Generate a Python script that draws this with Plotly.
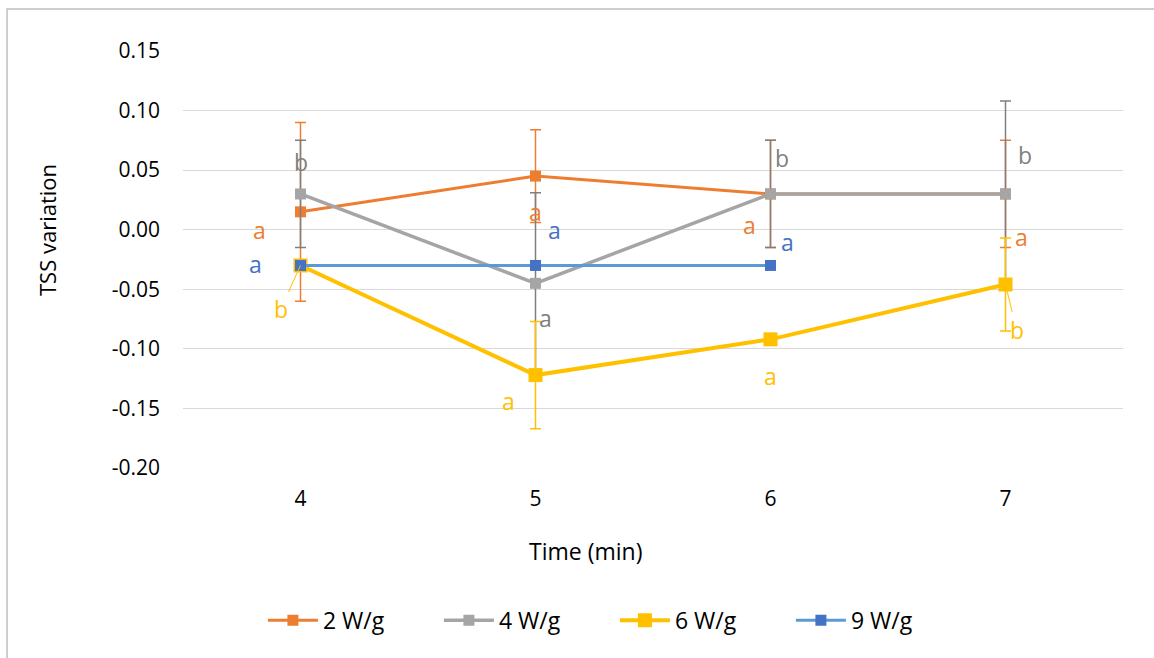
import plotly.graph_objects as go

# ---- data ----
times = ["4", "5", "6", "7"]
series_names = ["2 W/g", "4 W/g", "6 W/g", "9 W/g"]
v_2 = [0.015, 0.045, 0.030, 0.030]
v_4 = [0.030, -0.045, 0.030, 0.030]
v_6 = [-0.030, -0.122, -0.092, -0.046]
v_9 = [-0.030, -0.030, -0.030]
err_2 = [0.075, 0.039, 0.045, 0.045]
err_4 = [0.045, 0.076, 0.045, 0.078]
err_6 = [0.0, 0.045, 0.0, 0.039]
y_ticks = [0.15, 0.10, 0.05, 0.00, -0.05, -0.10, -0.15, -0.20]
y_tick_text = ["0.15", "0.10", "0.05", "0.00", "-0.05", "-0.10", "-0.15", "-0.20"]
x_title = "Time (min)"
y_title = "TSS variation"

# significance letters: (time, letter, series index, label y, x shift px)
letters = [
    ("4", "a", 0, 0.000, -41), ("4", "a", 3, -0.029, -45), ("4", "b", 1, 0.057, 0),
    ("5", "a", 0, 0.015, 0), ("5", "a", 3, 0.000, 19), ("5", "a", 1, -0.074, 10), ("5", "a", 2, -0.144, -27),
    ("6", "b", 1, 0.060, 11), ("6", "a", 0, 0.004, -21), ("6", "a", 3, -0.010, 17), ("6", "a", 2, -0.123, 0),
    ("7", "b", 1, 0.063, 19), ("7", "a", 0, -0.006, 16),
]
# labels with leader lines: (time, letter, series index, value, dx, dy)
leader_letters = [("4", "b", 2, -0.030, -20, 44), ("7", "b", 2, -0.046, 11, 45)]

colors = ["#ED7D31", "#A5A5A5", "#FFC000", "#5B9BD5"]
marker_colors = ["#ED7D31", "#A5A5A5", "#FFC000", "#4472C4"]
err_colors = ["#ED7D31", "#7F7F7F", "#FFC000", None]
label_colors = ["#ED7D31", "#7F7F7F", "#FFC000", "#4472C4"]

FONT = "Open Sans"
fig = go.Figure()

vals = [v_2, v_4, v_6, v_9]
errs = [err_2, err_4, err_6, None]
widths = [3, 3.5, 4, 3]
msizes = [11, 11, 14, 11]
for i, name in enumerate(series_names):
    kw = {}
    if errs[i] is not None:
        kw["error_y"] = dict(type="data", array=errs[i], visible=True,
                             color=err_colors[i], thickness=1.5, width=5.5)
    fig.add_trace(go.Scatter(
        x=times[:len(vals[i])], y=vals[i], name=name, mode="lines+markers",
        line=dict(color=colors[i], width=widths[i]),
        marker=dict(symbol="square", size=msizes[i], color=marker_colors[i]),
        **kw))

for t, letter, si, ly, xs in letters:
    fig.add_annotation(x=times.index(t), y=ly, text=letter, showarrow=False, xshift=xs,
                       font=dict(family=FONT, size=23, color=label_colors[si]))
for t, letter, si, val, dx, dy in leader_letters:
    fig.add_annotation(x=times.index(t), y=val, text=letter, showarrow=True, ax=dx, ay=dy,
                       arrowhead=0, arrowwidth=1, arrowcolor=label_colors[si], standoff=0,
                       font=dict(family=FONT, size=23, color=label_colors[si]))

# axis titles (offset from plot centre, as in the original)
fig.add_annotation(xref="paper", yref="paper", x=0.4277, y=-0.199, text=x_title,
                   showarrow=False, xanchor="center", yanchor="middle",
                   font=dict(family=FONT, size=23, color="#000000"))
fig.add_annotation(xref="paper", yref="paper", x=-0.1447, y=0.5707, text=y_title,
                   showarrow=False, xanchor="center", yanchor="middle", textangle=-90,
                   font=dict(family=FONT, size=22, color="#000000"))

# chart-area border
fig.add_shape(type="rect", xref="paper", yref="paper",
              x0=-0.1872, y0=-0.49, x1=1.045, y1=1.1007,
              line=dict(color="#BFBFBF", width=1.5), fillcolor="rgba(0,0,0,0)")

fig.update_layout(
    width=1154, height=658,
    margin=dict(l=183, r=31, t=51, b=190),
    paper_bgcolor="white", plot_bgcolor="white",
    font=dict(family=FONT, size=21, color="#000000"),
    showlegend=True,
    legend=dict(orientation="h", x=0.085, xanchor="left", y=-0.365, yanchor="middle",
                font=dict(family=FONT, size=23), entrywidth=111, entrywidthmode="pixels",
                itemwidth=50),
    xaxis=dict(type="category", range=[-0.5, 3.5], showgrid=False, zeroline=False,
               showline=False, ticks="", ticklabelstandoff=16,
               tickfont=dict(family=FONT, size=21)),
    yaxis=dict(range=[-0.2, 0.15], tickvals=y_ticks, ticktext=y_tick_text,
               showgrid=True, gridcolor="#D9D9D9", gridwidth=1,
               zeroline=True, zerolinecolor="#D9D9D9", zerolinewidth=1,
               showline=False, ticks="", ticklabelstandoff=22,
               tickfont=dict(family=FONT, size=21)),
)

fig.write_html("out.html", config={"displayModeBar": False},
               post_script="document.body.style.margin='0px';")
